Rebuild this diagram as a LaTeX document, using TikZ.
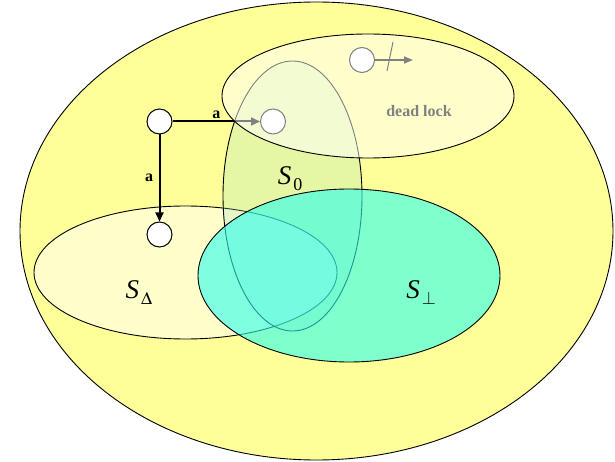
\documentclass[tikz,border=0pt]{standalone}
\usepackage{mathptmx}
\usepackage{fontspec}
\setmainfont{Liberation Serif}
\usepackage{xcolor}
\definecolor{outeryellow}{RGB}{255,255,153}
\definecolor{szerogreen}{RGB}{155,224,200}
\definecolor{sbotaqua}{RGB}{43,255,238}
\definecolor{lockgray}{RGB}{128,128,128}
\usetikzlibrary{shapes.geometric, arrows.meta, positioning}
\newcommand{\mengelbl}[1]{\textit{S}\kern2pt\raisebox{-6pt}{\fontsize{18}{18}\selectfont #1}}

\begin{document}
\begin{tikzpicture}[x=1pt, y=-1pt,
	menge/.style={ellipse, draw=black, line width=0.9pt, inner sep=0pt},
	zustand/.style={circle, draw=black, fill=white, line width=1pt, minimum size=25pt, inner sep=0pt},
	arr/.style={-{Triangle[length=9pt, width=8pt]}, line width=2pt, draw=black},
	lbl/.style={font=\fontsize{16}{18}\selectfont\bfseries},
	setlbl/.style={font=\fontsize{27}{30}\selectfont}
	]
\useasboundingbox (0,0) rectangle (615,462);

\node[menge, fill=outeryellow, minimum width=593pt, minimum height=458pt] (all) at (316.5,231) {};
\node[menge, fill=white, fill opacity=0.5, minimum width=303pt, minimum height=133pt] (sdelta) at (185.5,272.5) {};
\node[menge, fill=szerogreen, fill opacity=0.25, minimum width=139pt, minimum height=270pt] (szero) at (292.5,196) {};

% Zustaende und Uebergaenge
\node[zustand] (p) at (159.5,121.5) {};
\node[zustand] (q) at (273,121.5) {};
\node[zustand] (r) at (159.5,234.5) {};
\draw[arr] (p.east) -- node[lbl, above=-1pt] {a} (q.west);
\draw[arr] (p.south) -- node[lbl, left=2pt] {a} (r.north);

% dead lock
\node[zustand] (d) at (362,60) {};
\coordinate (dtip) at (413,60);
\draw[-{Triangle[length=9pt, width=7pt]}, line width=1.8pt] (d.east) -- (dtip);
\draw[line width=1pt] (393,42) -- (387,71);
\node[menge, fill=white, fill opacity=0.5, minimum width=292pt, minimum height=124pt] (lock) at (368,96) {};
\node[lbl, text=lockgray] (locktxt) at (419,111) {dead lock};

\node[menge, fill=sbotaqua, fill opacity=0.6, minimum width=302pt, minimum height=173pt] (sbot) at (349,275.5) {};

\node[setlbl] (l0) at (290,179) {\mengelbl{0}};
\node[setlbl] (ldelta) at (139,293) {\mengelbl{$\Delta$}};
\node[setlbl] (lbot) at (421,293) {\mengelbl{$\bot$}};
\end{tikzpicture}
\end{document}
